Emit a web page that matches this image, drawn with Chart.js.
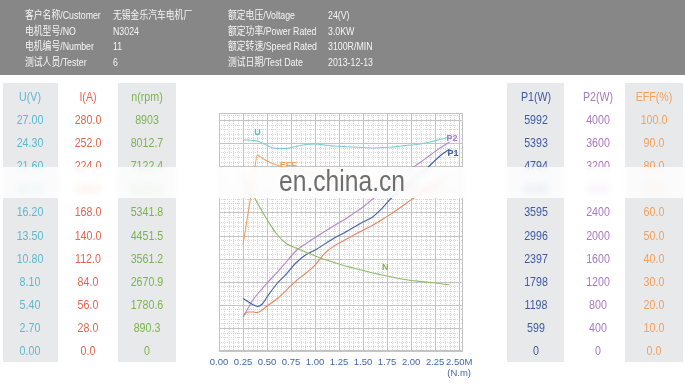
<!DOCTYPE html>
<html><head><meta charset="utf-8">
<script src="https://cdn.jsdelivr.net/npm/chart.js@4"></script>
<style>
html,body{margin:0;padding:0;background:#fff;width:685px;height:384px;overflow:hidden;font-family:"Liberation Sans",Arial,"Noto Sans CJK SC",sans-serif;}
#wrap{position:relative;width:685px;height:384px;}
#hdr{position:absolute;left:0;top:0;width:685px;height:75px;background:#878787;}
.ht{position:absolute;color:#f5f5f5;font-size:11px;line-height:12px;white-space:nowrap;transform:translateY(-50%) scaleX(0.8);transform-origin:left center;}
.col{position:absolute;top:83px;height:279px;background:#e8e9eb;}
#c{position:absolute;left:0;top:0;}
.tt{position:absolute;font-size:13px;line-height:14px;white-space:nowrap;transform:translate(-50%,-50%) scaleX(0.82);}
#band{position:absolute;left:0;top:167px;width:685px;height:31px;background:rgba(255,255,255,0.8);backdrop-filter:blur(3px);-webkit-backdrop-filter:blur(3px);}
#wm{position:absolute;left:279px;top:165px;font-size:29px;line-height:32px;color:#6e6e6e;white-space:nowrap;transform:scaleX(0.85);transform-origin:left top;}
</style>
</head><body>
<div id="wrap">
  <div id="hdr"></div>
  <div class="col" style="left:3px;width:55px"></div>
  <div class="col" style="left:118px;width:58px"></div>
  <div class="col" style="left:507px;width:57px"></div>
  <div class="col" style="left:625px;width:58px"></div>
  <canvas id="c" width="685" height="384"></canvas>
  <div id="texts"></div>
  <div id="band"></div>
  <div id="wm">en.china.cn</div>
</div>
<script>
// ---- header info ----
const infoLabelsLeft = ['客户名称/Customer','电机型号/NO','电机编号/Number','测试人员/Tester'];
const infoValuesLeft = ['无锡金乐汽车电机厂','N3024','11','6'];
const infoLabelsRight = ['额定电压/Voltage','额定功率/Power Rated','额定转速/Speed Rated','测试日期/Test Date'];
const infoValuesRight = ['24(V)','3.0KW','3100R/MIN','2013-12-13'];

// ---- data (torque in N.m) ----
const torque = [0.25,0.30,0.35,0.40,0.45,0.50,0.60,0.70,0.80,0.90,1.00,1.10,1.20,1.30,1.40,1.50,1.60,1.70,1.80,1.90,2.00,2.10,2.20,2.30,2.40];
const voltage = [24.66,24.66,24.60,24.55,24.31,24.02,23.67,23.67,23.90,24.14,24.19,24.08,23.96,23.90,23.84,23.79,23.73,23.79,23.84,23.96,24.08,24.19,24.43,24.72,25.01];
const current = [42.4,47.3,47.3,46.7,49.7,54.5,63.0,73.6,84.8,93.9,104.2,118.3,127.4,133.9,140.4,146.4,152.4,159.3,166.8,174.8,183.2,190.7,198.2,205.7,213.3];
const speed = [6706,6375,6032,5704,5377,5068,4509,4143,3970,3815,3661,3526,3411,3295,3199,3102,3006,2929,2852,2775,2717,2679,2640,2601,2544];
const powerIn = [1362,1284,1206,1154,1219,1401,1738,1997,2283,2490,2620,2776,2931,3061,3204,3346,3476,3709,3982,4189,4397,4591,4825,5058,5240];
const powerOut = [589,736,874,987,1082,1177,1351,1541,1732,1853,1965,2069,2173,2268,2381,2494,2632,2771,2900,3030,3160,3273,3394,3515,3619];
const efficiency = [45.9,58.9,71.9,84.8,83.5,82.3,80.5,79.2,78.4,77.5,76.6,75.8,74.9,74.5,74.0,73.6,73.2,72.7,72.3,71.9,71.4,71.0,70.6,70.1,69.7];

// ---- tick labels ----
const xTicks = [0,0.25,0.5,0.75,1.0,1.25,1.5,1.75,2.0,2.25,2.5];
const uTicks = ['27.00','24.30','21.60','18.90','16.20','13.50','10.80','8.10','5.40','2.70','0.00'];
const iTicks = ['280.0','252.0','224.0','196.0','168.0','140.0','112.0','84.0','56.0','28.0','0.0'];
const nTicks = ['8903','8012.7','7122.4','6232.1','5341.8','4451.5','3561.2','2670.9','1780.6','890.3','0'];
const p1Ticks = ['5992','5393','4794','4195','3595','2996','2397','1798','1198','599','0'];
const p2Ticks = ['4000','3600','3200','2800','2400','2000','1600','1200','800','400','0'];
const effTicks = ['100.0','90.0','80.0','70.0','60.0','50.0','40.0','30.0','20.0','10.0','0.0'];

const COL = {
  U:{line:'#80ccd8', text:'#5db8cf'},
  I:{line:'#f0805e', text:'#e2664c'},
  N:{line:'#8cbb66', text:'#79b44f'},
  P1:{line:'#4260aa', text:'#3d5aa2'},
  P2:{line:'#b985c9', text:'#a878c0'},
  EFF:{line:'#f4a060', text:'#f2a05c'}
};
const K = 238/231; // grid extends slightly above the top tick row

const pts = arr => arr.map((v,i)=>({x:torque[i], y:v}));

const gridPlugin = {
  id:'paper',
  beforeDatasetsDraw(chart){
    const {ctx, chartArea:a, scales} = chart;
    const xs = scales.x, ys = scales.yU;
    ctx.save();
    ctx.fillStyle = '#ffffff';
    ctx.fillRect(a.left, a.top, a.right-a.left, a.bottom-a.top);
    ctx.lineWidth = 1;
    // minor dotted
    ctx.strokeStyle = '#d6d6d6';
    ctx.setLineDash([1,1]);
    for (let i=0; i*0.05<=xs.max+1e-9; i++){
      if (i%5===0) continue;
      const x = Math.round(xs.getPixelForValue(i*0.05))+0.5;
      ctx.beginPath(); ctx.moveTo(x,a.top); ctx.lineTo(x,a.bottom); ctx.stroke();
    }
    for (let i=0; i*0.54<=ys.max+1e-9; i++){
      if (i%5===0) continue;
      const y = Math.round(ys.getPixelForValue(i*0.54))+0.5;
      ctx.beginPath(); ctx.moveTo(a.left,y); ctx.lineTo(a.right,y); ctx.stroke();
    }
    // major solid
    ctx.setLineDash([]);
    ctx.strokeStyle = '#c4c4c4';
    for (let i=0; i*0.25<=xs.max+1e-9; i++){
      const x = Math.round(xs.getPixelForValue(i*0.25))+0.5;
      ctx.beginPath(); ctx.moveTo(x,a.top); ctx.lineTo(x,a.bottom); ctx.stroke();
    }
    for (let i=0; i*2.7<=ys.max+1e-9; i++){
      const y = Math.round(ys.getPixelForValue(i*2.7))+0.5;
      ctx.beginPath(); ctx.moveTo(a.left,y); ctx.lineTo(a.right,y); ctx.stroke();
    }
    ctx.strokeRect(Math.round(a.left)+0.5, Math.round(a.top)+0.5, Math.round(a.right-a.left)-1, Math.round(a.bottom-a.top)-1);
    ctx.restore();
  },
  afterDatasetsDraw(chart){
    const {ctx, scales} = chart;
    const xs = scales.x;
    const n = torque.length-1;
    ctx.save();
    ctx.font = 'bold 9px "Liberation Sans", Arial, sans-serif';
    ctx.textBaseline = 'middle';
    const lab = (t, x, y, c, align) => { ctx.fillStyle=c; ctx.textAlign=align||'center'; ctx.fillText(t,x,y); };
    lab('U', xs.getPixelForValue(torque[3]), scales.yU.getPixelForValue(voltage[3])-8, COL.U.text);
    lab('P2', xs.getPixelForValue(torque[n])-3, scales.yP2.getPixelForValue(powerOut[n])-3, COL.P2.text, 'left');
    lab('P1', xs.getPixelForValue(torque[n])-2, scales.yP1.getPixelForValue(powerIn[n])+5, COL.P1.text, 'left');
    lab('N', xs.getPixelForValue(torque[17])+3, scales.yN.getPixelForValue(speed[17])-7, COL.N.text);
    lab('EFF', xs.getPixelForValue(torque[7])+2, scales.yE.getPixelForValue(efficiency[7])-3, COL.EFF.text);
    // axis unit
    ctx.font = '9.5px "Liberation Sans", Arial, sans-serif';
    ctx.fillStyle = '#4566a8';
    ctx.textAlign = 'center';
    ctx.fillText('(N.m)', xs.getPixelForValue(2.5), 373);
    ctx.restore();
  }
};

const ds = (label, arr, axis, color) => ({
  label, data: pts(arr), yAxisID: axis, borderColor: color, borderWidth: 1.1,
  pointRadius: 0, fill: false, cubicInterpolationMode: 'monotone'
});

const chart = new Chart(document.getElementById('c'), {
  type: 'line',
  data: { datasets: [
    ds('N', speed, 'yN', COL.N.line),
    ds('EFF', efficiency, 'yE', COL.EFF.line),
    ds('I', current, 'yI', COL.I.line),
    ds('P1', powerIn, 'yP1', COL.P1.line),
    ds('P2', powerOut, 'yP2', COL.P2.line),
    ds('U', voltage, 'yU', COL.U.line)
  ]},
  options: {
    responsive: false, animation: false, events: [],
    layout: { padding: { left: 219, right: 222, top: 113, bottom: 0 } },
    plugins: { legend: { display: false }, tooltip: { enabled: false } },
    scales: {
      x: {
        type: 'linear', min: 0, max: 2.54,
        afterBuildTicks: s => { s.ticks = xTicks.map(v => ({ value: v })); },
        afterFit: s => { s.height = 33; },
        grid: { display: false, drawTicks: false }, border: { display: false },
        ticks: { autoSkip: false, maxRotation: 0, padding: 6, color: '#4566a8',
          font: { size: 9.5, family: '"Liberation Sans", Arial, sans-serif' },
          callback: v => v === 2.5 ? '2.50M' : Number(v).toFixed(2) }
      },
      yU: { display: false, min: 0, max: 27*K },
      yI: { display: false, min: 0, max: 280*K },
      yN: { display: false, min: 0, max: 8903*K },
      yP1: { display: false, min: 0, max: 5992*K },
      yP2: { display: false, min: 0, max: 4000*K },
      yE: { display: false, min: 0, max: 100*K }
    }
  },
  plugins: [gridPlugin]
});

// ---- header & side tables as text ----
const texts = document.getElementById('texts');
function addHeaderText(t, x, y){
  const d = document.createElement('div'); d.className='ht'; d.textContent=t;
  d.style.left = x+'px'; d.style.top = y+'px'; texts.appendChild(d);
}
const rowY = [15,31,46,62];
infoLabelsLeft.forEach((t,i)=>addHeaderText(t,25,rowY[i]));
infoValuesLeft.forEach((t,i)=>addHeaderText(t,113,rowY[i]));
infoLabelsRight.forEach((t,i)=>addHeaderText(t,228,rowY[i]));
infoValuesRight.forEach((t,i)=>addHeaderText(t,328,rowY[i]));

function addCell(t, x, y, color){
  const d = document.createElement('div'); d.className='tt'; d.textContent=t;
  d.style.left = x+'px'; d.style.top = y+'px'; d.style.color = color; texts.appendChild(d);
}
const columns = [
  {title:'U(V)', ticks:uTicks, axis:'yU', x:30, c:COL.U.text},
  {title:'I(A)', ticks:iTicks, axis:'yI', x:88, c:COL.I.text},
  {title:'n(rpm)', ticks:nTicks, axis:'yN', x:147, c:COL.N.text},
  {title:'P1(W)', ticks:p1Ticks, axis:'yP1', x:536, c:COL.P1.text},
  {title:'P2(W)', ticks:p2Ticks, axis:'yP2', x:598, c:COL.P2.text},
  {title:'EFF(%)', ticks:effTicks, axis:'yE', x:654, c:COL.EFF.text}
];
columns.forEach(col=>{
  const sc = chart.scales[col.axis];
  addCell(col.title, col.x, 97, col.c);
  col.ticks.forEach(t=>addCell(t, col.x, sc.getPixelForValue(parseFloat(t)), col.c));
});
</script>
</body></html>
